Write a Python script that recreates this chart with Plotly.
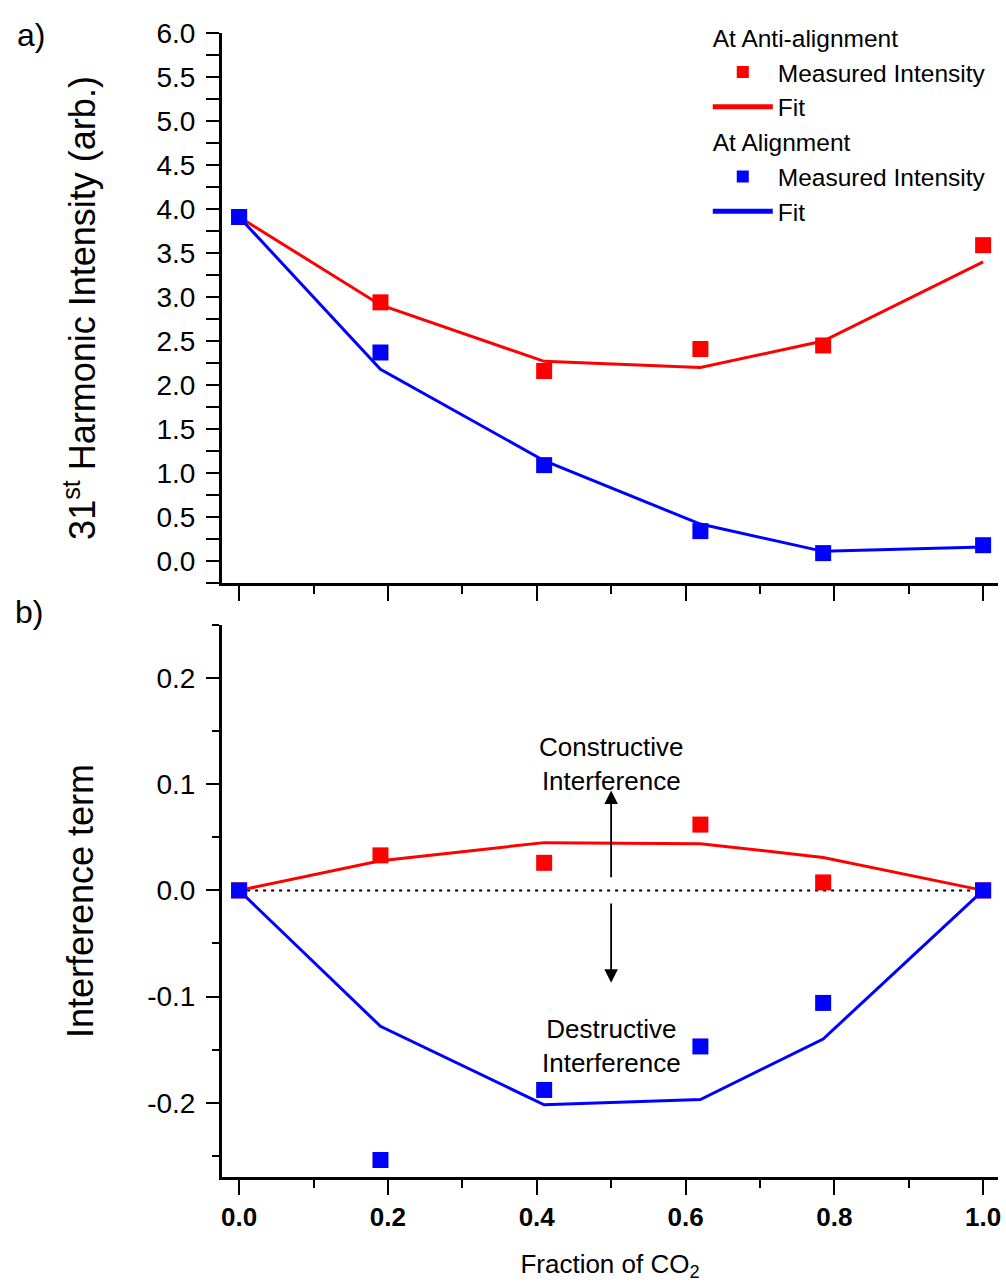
import plotly.graph_objects as go

# ---------------- data ----------------
fraction_co2 = [0.0, 0.19, 0.41, 0.62, 0.785, 1.0]

# panel a) 31st harmonic intensity
anti_measured = [3.91, 2.94, 2.16, 2.41, 2.45, 3.59]
anti_fit = [3.91, 2.91, 2.27, 2.20, 2.50, 3.40]
align_measured = [3.91, 2.37, 1.09, 0.34, 0.09, 0.18]
align_fit = [3.91, 2.18, 1.14, 0.42, 0.11, 0.16]

# panel b) interference term
anti_interf_measured = [0.0, 0.033, 0.026, 0.062, 0.0075, 0.0]
anti_interf_fit = [0.0, 0.028, 0.045, 0.044, 0.031, 0.0]
align_interf_measured = [0.0, -0.254, -0.188, -0.147, -0.106, 0.0]
align_interf_fit = [0.0, -0.128, -0.202, -0.197, -0.140, 0.0]

x_tick_vals = [0.0, 0.2, 0.4, 0.6, 0.8, 1.0]
x_tick_text = ["0.0", "0.2", "0.4", "0.6", "0.8", "1.0"]
x_minor_vals = [0.1, 0.3, 0.5, 0.7, 0.9]
ya_tick_vals = [0.0, 0.5, 1.0, 1.5, 2.0, 2.5, 3.0, 3.5, 4.0, 4.5, 5.0, 5.5, 6.0]
ya_tick_text = ["0.0", "0.5", "1.0", "1.5", "2.0", "2.5", "3.0", "3.5", "4.0", "4.5", "5.0", "5.5", "6.0"]
yb_tick_vals = [-0.2, -0.1, 0.0, 0.1, 0.2]
yb_tick_text = ["-0.2", "-0.1", "0.0", "0.1", "0.2"]

zero_line_x = [0.0, 1.0]
zero_line_y = [0.0, 0.0]
arrow_x = 0.5
arrow_up = [0.011, 0.094]
arrow_down = [-0.011, -0.087]

RED = "#FF0000"
BLUE = "#0000FF"
FONT = "Liberation Sans, Arial, Helvetica, sans-serif"
LEG_SIZE = 24.5

fig = go.Figure()

# ---- panel a ----
fig.add_trace(go.Scatter(
    x=fraction_co2, y=anti_fit, mode="lines", name="Fit",
    line=dict(color=RED, width=3), legendgroup="anti", legendrank=2,
    xaxis="x", yaxis="y", showlegend=True))
fig.add_trace(go.Scatter(
    x=fraction_co2, y=anti_measured, mode="markers", name="Measured Intensity",
    marker=dict(symbol="square", size=16, color=RED), legendgroup="anti",
    legendgrouptitle=dict(text="At Anti-alignment", font=dict(size=LEG_SIZE, family=FONT, color="black")),
    legendrank=1, xaxis="x", yaxis="y", showlegend=True))
fig.add_trace(go.Scatter(
    x=fraction_co2, y=align_fit, mode="lines", name="Fit",
    line=dict(color=BLUE, width=3), legendgroup="align", legendrank=4,
    xaxis="x", yaxis="y", showlegend=True))
fig.add_trace(go.Scatter(
    x=fraction_co2, y=align_measured, mode="markers", name="Measured Intensity",
    marker=dict(symbol="square", size=16, color=BLUE), legendgroup="align",
    legendgrouptitle=dict(text="At Alignment", font=dict(size=LEG_SIZE, family=FONT, color="black")),
    legendrank=3, xaxis="x", yaxis="y", showlegend=True))

# ---- panel b ----
fig.add_trace(go.Scatter(
    x=zero_line_x, y=zero_line_y, mode="lines",
    line=dict(color="black", width=2, dash="3px,5px"), xaxis="x2", yaxis="y2",
    showlegend=False, hoverinfo="skip"))
fig.add_trace(go.Scatter(
    x=fraction_co2, y=anti_interf_fit, mode="lines",
    line=dict(color=RED, width=3), xaxis="x2", yaxis="y2", showlegend=False))
fig.add_trace(go.Scatter(
    x=fraction_co2, y=align_interf_fit, mode="lines",
    line=dict(color=BLUE, width=3), xaxis="x2", yaxis="y2", showlegend=False))
fig.add_trace(go.Scatter(
    x=fraction_co2, y=anti_interf_measured, mode="markers",
    marker=dict(symbol="square", size=16, color=RED), xaxis="x2", yaxis="y2", showlegend=False))
fig.add_trace(go.Scatter(
    x=fraction_co2, y=align_interf_measured, mode="markers",
    marker=dict(symbol="square", size=16, color=BLUE), xaxis="x2", yaxis="y2", showlegend=False))

axis_common = dict(showline=True, linecolor="black", linewidth=3, showgrid=False,
                   zeroline=False, ticks="outside", tickcolor="black", tickwidth=2)

tick_font = dict(family=FONT, size=28, color="black")

fig.update_layout(
    width=1006, height=1282,
    margin=dict(l=222, r=5, t=33, b=105),
    plot_bgcolor="white", paper_bgcolor="white",
    font=dict(family=FONT, color="black"),
    xaxis=dict(domain=[0, 1], anchor="y", range=[-0.023, 1.02],
               tickvals=x_tick_vals, ticktext=x_tick_text, showticklabels=False,
               ticklen=15, minor=dict(tickvals=x_minor_vals, ticklen=8,
                                      ticks="outside", tickcolor="black", tickwidth=2),
               **axis_common),
    yaxis=dict(domain=[0.5192, 1], anchor="x", range=[-0.25, 6.001],
               tickvals=ya_tick_vals, ticktext=ya_tick_text, tickfont=tick_font,
               ticklen=13, ticklabelstandoff=5,
               minor=dict(dtick=0.25, tick0=0, ticklen=13, ticks="outside",
                          tickcolor="black", tickwidth=2),
               title=dict(text="31<sup>st</sup> Harmonic Intensity (arb.)",
                          font=dict(family=FONT, size=36, color="black"), standoff=50),
               **axis_common),
    xaxis2=dict(domain=[0, 1], anchor="y2", range=[-0.023, 1.02],
                tickvals=x_tick_vals, ticktext=["<b>%s</b>" % t for t in x_tick_text],
                tickfont=dict(family=FONT, size=26, color="black"),
                ticklen=15, minor=dict(tickvals=x_minor_vals, ticklen=8,
                                       ticks="outside", tickcolor="black", tickwidth=2),
                title=dict(text="Fraction of CO<sub>2</sub>",
                           font=dict(family=FONT, size=26, color="black"), standoff=26),
                **axis_common),
    yaxis2=dict(domain=[0, 0.4825], anchor="x2", range=[-0.27, 0.25],
                tickvals=yb_tick_vals, ticktext=yb_tick_text, tickfont=tick_font,
                ticklen=13, ticklabelstandoff=5,
                minor=dict(dtick=0.05, tick0=0, ticklen=7, ticks="outside",
                           tickcolor="black", tickwidth=2),
                title=dict(text="Interference term",
                           font=dict(family=FONT, size=36, color="black"), standoff=43),
                **axis_common),
    legend=dict(x=0.626, y=1.016, xanchor="left", yanchor="top",
                bgcolor="rgba(0,0,0,0)", font=dict(family=FONT, size=LEG_SIZE, color="black"),
                tracegroupgap=0, itemwidth=60, itemsizing="constant",
                traceorder="grouped"),
    showlegend=True,
)

fig.add_annotation(text="a)", x=-0.2465, y=0.998, xref="paper", yref="paper",
                   xanchor="center", yanchor="middle", showarrow=False,
                   font=dict(family=FONT, size=32, color="black"))
fig.add_annotation(text="b)", x=-0.249, y=0.494, xref="paper", yref="paper",
                   xanchor="center", yanchor="middle", showarrow=False,
                   font=dict(family=FONT, size=32, color="black"))

for ys in (arrow_up, arrow_down):
    fig.add_annotation(x=arrow_x, y=ys[1], ax=arrow_x, ay=ys[0],
                       xref="x2", yref="y2", axref="x2", ayref="y2",
                       text="", showarrow=True, arrowhead=2, arrowsize=1.5,
                       arrowwidth=1.8, arrowcolor="black")

fig.add_annotation(text="Constructive<br>Interference", x=arrow_x, y=0.119,
                   xref="x2", yref="y2", showarrow=False, xanchor="center", yanchor="middle",
                   font=dict(family=FONT, size=26, color="black"))
fig.add_annotation(text="Destructive<br>Interference", x=arrow_x, y=-0.147,
                   xref="x2", yref="y2", showarrow=False, xanchor="center", yanchor="middle",
                   font=dict(family=FONT, size=26, color="black"))

# remove the default 8px page margin so the figure fills the window exactly
fig.write_html("out.html",
               config={"displayModeBar": False},
               post_script="document.body.style.margin='0';document.body.style.overflow='hidden';")
